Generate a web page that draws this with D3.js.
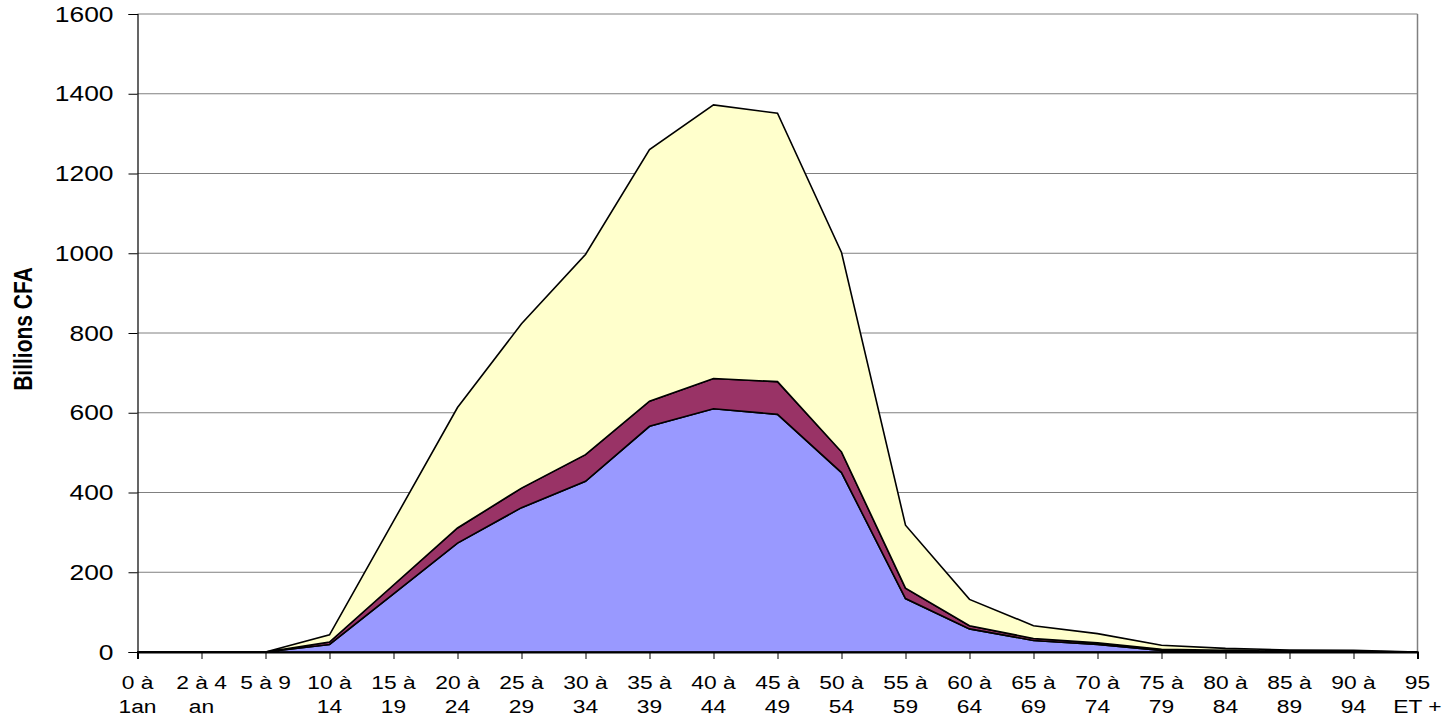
<!DOCTYPE html>
<html>
<head>
<meta charset="utf-8">
<script src="https://cdn.jsdelivr.net/npm/d3@7"></script>
<style>
  body { margin: 0; background: #fff; }
  text { font-family: "Liberation Sans", Arial, sans-serif; }
</style>
</head>
<body>
<svg id="chart"></svg>
<script>
// age groups (two lines per label, split on \n)
const categories = [
  "0 à\n1an", "2 à 4\nan", "5 à 9\n", "10 à\n14", "15 à\n19", "20 à\n24", "25 à\n29",
  "30 à\n34", "35 à\n39", "40 à\n44", "45 à\n49", "50 à\n54", "55 à\n59", "60 à\n64",
  "65 à\n69", "70 à\n74", "75 à\n79", "80 à\n84", "85 à\n89", "90 à\n94", "95\nET +"
]

// stacked series, bottom to top
const seriesBlue   = [0, 0, 0, 19, 146, 273, 362, 428, 566, 610, 596, 450, 134, 58, 29, 19, 4, 2, 1, 1, 0]
const seriesMaroon = [0, 0, 0, 6, 22, 38, 49, 67, 63, 76, 82, 52, 26, 8, 5, 4, 3, 2, 1, 0.5, 0]
const seriesYellow = [0, 0, 0, 18, 160, 302, 412, 502, 631, 686, 673, 500, 158, 66, 32, 23, 10, 5, 3, 2.5, 0]

const yTicks = [0, 200, 400, 600, 800, 1000, 1200, 1400, 1600]
const yTitle = "Billions CFA"

// constants
const width = 1447
const height = 725
const margin = { left: 137.5, right: 29.5, top: 14, bottom: 73 }
const visWidth = width - margin.left - margin.right
const visHeight = height - margin.top - margin.bottom
const stretch = 1.2 // the text in the original is a bit wider than plain Arial

const svg = d3.select('svg#chart').attr('width', width).attr('height', height)
const g = svg.append('g').attr('transform', 'translate(' + margin.left + ', ' + margin.top + ')')

// build table for d3.stack
const table = categories.map((c, i) => ({ cat: c, blue: seriesBlue[i], maroon: seriesMaroon[i], yellow: seriesYellow[i] }))
const keys = ['blue', 'maroon', 'yellow']
const colors = { blue: '#9999FF', maroon: '#993366', yellow: '#FFFFCC' }
const stacked = d3.stack().keys(keys)(table)

const x = d3.scalePoint().domain(categories).range([0, visWidth])
const y = d3.scaleLinear().domain([0, 1600]).range([visHeight, 0])

// gridlines
g.append('g').selectAll('line').data(yTicks.filter(t => t > 0))
  .enter().append('line')
  .attr('x1', 0).attr('x2', visWidth)
  .attr('y1', d => y(d)).attr('y2', d => y(d))
  .attr('stroke', '#808080').attr('stroke-width', 1)

// right border of plot area
g.append('line')
  .attr('x1', visWidth).attr('x2', visWidth)
  .attr('y1', 0).attr('y2', visHeight)
  .attr('stroke', '#808080').attr('stroke-width', 1.5)

// areas
const area = d3.area()
  .x(d => x(d.data.cat))
  .y0(d => y(d[0]))
  .y1(d => y(d[1]))

g.append('g').selectAll('path').data(stacked)
  .enter().append('path')
  .attr('d', area)
  .attr('fill', d => colors[d.key])
  .attr('stroke', '#000')
  .attr('stroke-width', 1.6)
  .attr('stroke-linejoin', 'miter')

// y axis
const yAxis = d3.axisLeft(y).tickValues(yTicks).tickSize(9).tickFormat(d3.format('d'))
const yG = g.append('g').call(yAxis)
yG.select('.domain').attr('stroke', '#000').attr('stroke-width', 1.2)
yG.selectAll('.tick line').attr('stroke', '#000')
yG.selectAll('.tick text')
  .attr('x', 0)
  .attr('transform', 'translate(-24,0) scale(' + stretch + ',1)')
  .attr('font-size', 22).attr('fill', '#000')
  .attr('font-family', '"Liberation Sans", Arial, sans-serif')

// x axis
const xAxis = d3.axisBottom(x).tickSize(7).tickFormat('')
const xG = g.append('g').attr('transform', 'translate(0,' + visHeight + ')').call(xAxis)
xG.select('.domain').attr('stroke', '#000').attr('stroke-width', 2)
xG.selectAll('.tick line').attr('stroke', '#000')

// two-line category labels
const lbl = g.append('g').selectAll('text').data(categories)
  .enter().append('text')
  .attr('transform', d => 'translate(' + x(d) + ',' + (visHeight + 37) + ') scale(' + stretch + ',1)')
  .attr('text-anchor', 'middle')
  .attr('font-size', 19)
  .attr('fill', '#000')
lbl.each(function (d) {
  const parts = d.split('\n')
  d3.select(this).selectAll('tspan').data(parts).enter().append('tspan')
    .attr('x', 0)
    .attr('dy', (p, i) => i === 0 ? 0 : 24)
    .text(p => p)
})

// y title
svg.append('text')
  .attr('transform', 'translate(32,329) scale(' + stretch + ',1) rotate(-90)')
  .attr('text-anchor', 'middle')
  .attr('font-size', 21)
  .attr('font-weight', 'bold')
  .text(yTitle)
</script>
</body>
</html>
